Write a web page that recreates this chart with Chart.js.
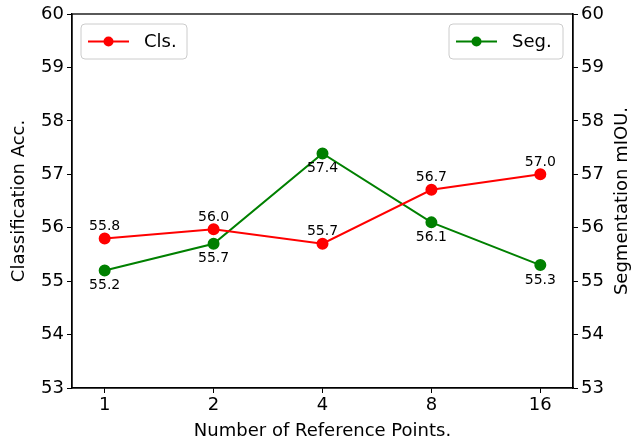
<!DOCTYPE html>
<html>
<head>
<meta charset="utf-8">
<script src="https://cdn.jsdelivr.net/npm/chart.js@4.4.1/dist/chart.umd.min.js"></script>
<style>
  html, body { margin: 0; padding: 0; background: #fff; }
  #wrap { width: 640px; height: 442px; position: relative; }
</style>
</head>
<body>
<div id="wrap"><canvas id="c"></canvas></div>
<script>
const points = ["1", "2", "4", "8", "16"];
const cls = [55.8, 55.97, 55.7, 56.71, 57.0];
const seg = [55.2, 55.7, 57.39, 56.1, 55.3];
const yTicks = [53, 54, 55, 56, 57, 58, 59, 60];

const C = {
  cls: "#ff0000",
  seg: "#008000",
  text: "#000",
  legendEdge: "#cccccc",
};
const FONT = "'DejaVu Sans', sans-serif";

// value labels above (Cls.) and below (Seg.) each point
const valueLabels = {
  id: "valueLabels",
  afterDatasetsDraw(chart) {
    const { ctx } = chart;
    ctx.save();
    ctx.font = `14px ${FONT}`;
    ctx.fillStyle = C.text;
    ctx.textAlign = "center";
    chart.data.datasets.forEach((ds, di) => {
      const meta = chart.getDatasetMeta(di);
      meta.data.forEach((pt, i) => {
        const v = ds.data[i].y.toFixed(1);
        if (di === 0) {
          ctx.textBaseline = "bottom";
          ctx.fillText(v, pt.x, pt.y - 5);
        } else {
          ctx.textBaseline = "top";
          ctx.fillText(v, pt.x, pt.y + 8);
        }
      });
    });
    ctx.restore();
  },
};

// box round the plot, y titles (both read bottom-up) and two legends
const frameAndLegends = {
  id: "frameAndLegends",
  afterDraw(chart) {
    const { ctx, chartArea: a } = chart;
    ctx.save();
    ctx.strokeStyle = "#000";
    ctx.lineWidth = 1.3;
    ctx.strokeRect(a.left, a.top, a.right - a.left, a.bottom - a.top);

    const midY = (a.top + a.bottom) / 2;
    ctx.fillStyle = C.text;
    ctx.font = `18px ${FONT}`;
    ctx.textAlign = "center";
    ctx.textBaseline = "middle";
    [[19, "Classification Acc."], [622, "Segmentation mIOU."]].forEach(([x, t]) => {
      ctx.save();
      ctx.translate(x, midY);
      ctx.rotate(-Math.PI / 2);
      ctx.fillText(t, 0, 0);
      ctx.restore();
    });

    function legend(x0, x1, label, color) {
      const y0 = a.top + 10, y1 = a.top + 45;
      ctx.fillStyle = "rgba(255,255,255,0.8)";
      ctx.strokeStyle = C.legendEdge;
      ctx.lineWidth = 1;
      ctx.beginPath();
      ctx.roundRect(x0, y0, x1 - x0, y1 - y0, 4);
      ctx.fill();
      ctx.stroke();
      const ym = (y0 + y1) / 2;
      ctx.strokeStyle = color;
      ctx.lineWidth = 2;
      ctx.beginPath();
      ctx.moveTo(x0 + 7, ym);
      ctx.lineTo(x0 + 48, ym);
      ctx.stroke();
      ctx.fillStyle = color;
      ctx.beginPath();
      ctx.arc(x0 + 27.5, ym, 5, 0, Math.PI * 2);
      ctx.fill();
      ctx.fillStyle = C.text;
      ctx.font = `18px ${FONT}`;
      ctx.textAlign = "left";
      ctx.textBaseline = "middle";
      ctx.fillText(label, x0 + 63, ym + 1);
    }
    legend(a.left + 9, a.left + 115, "Cls.", C.cls);
    legend(a.right - 124, a.right - 10, "Seg.", C.seg);
    ctx.restore();
  },
};

const yAxis = (pos) => ({
  type: "linear",
  position: pos,
  min: 53,
  max: 60,
  afterBuildTicks: s => { s.ticks = yTicks.map(v => ({ value: v })); },
  afterFit: s => { s.width = pos === "left" ? 72 : 67; },
  ticks: { color: C.text, font: { family: FONT, size: 18 }, padding: 3 },
  grid: { drawOnChartArea: false, tickLength: 5, color: "#000", tickWidth: 1 },
  border: { display: true, color: "#000", width: 1.3 },
});

new Chart(document.getElementById("c"), {
  type: "line",
  data: {
    datasets: [
      {
        label: "Cls.",
        data: cls.map((v, i) => ({ x: i, y: v })),
        borderColor: C.cls,
        backgroundColor: C.cls,
        borderWidth: 2,
        pointRadius: 5,
        pointHoverRadius: 5,
        tension: 0,
        yAxisID: "y",
      },
      {
        label: "Seg.",
        data: seg.map((v, i) => ({ x: i, y: v })),
        borderColor: C.seg,
        backgroundColor: C.seg,
        borderWidth: 2,
        pointRadius: 5,
        pointHoverRadius: 5,
        tension: 0,
        yAxisID: "y2",
      },
    ],
  },
  options: {
    responsive: true,
    maintainAspectRatio: false,
    animation: false,
    layout: { padding: { top: 14, left: 0, right: 0, bottom: 0 } },
    plugins: { legend: { display: false }, tooltip: { enabled: false } },
    scales: {
      x: {
        type: "linear",
        min: -0.3,
        max: 4.3,
        afterBuildTicks: s => { s.ticks = points.map((_, i) => ({ value: i })); },
        afterFit: s => { s.height = 54; },
        ticks: { color: C.text, font: { family: FONT, size: 18 }, padding: 2, callback: v => points[v] },
        grid: { drawOnChartArea: false, tickLength: 5, color: "#000" },
        border: { display: true, color: "#000", width: 1.3 },
        title: { display: true, text: "Number of Reference Points.", color: C.text, font: { family: FONT, size: 18 }, padding: { top: 0, bottom: 0 } },
      },
      y: yAxis("left"),
      y2: yAxis("right"),
    },
  },
  plugins: [valueLabels, frameAndLegends],
});
</script>
</body>
</html>
